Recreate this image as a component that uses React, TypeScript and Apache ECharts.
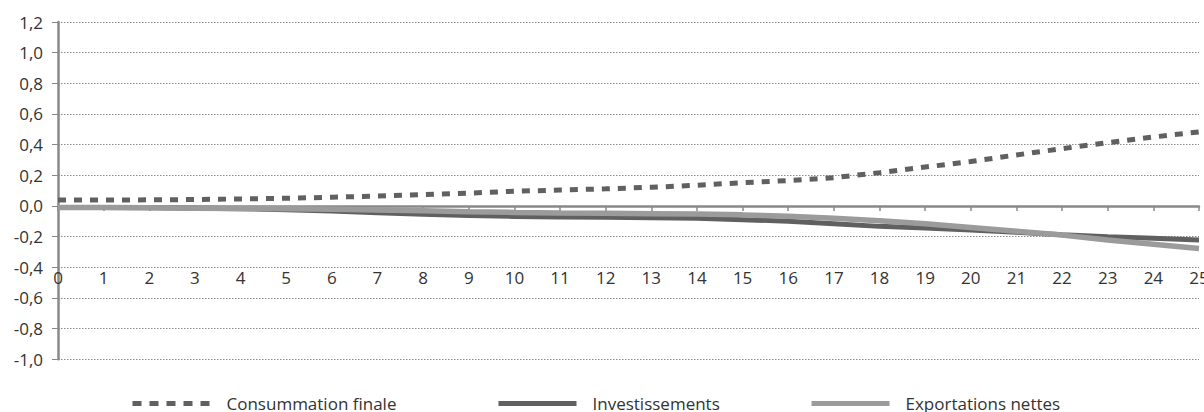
import React, { useEffect, useRef } from "react";
import * as echarts from "echarts";

const categories: string[] = Array.from({ length: 26 }, (_, i) => String(i));

const consommation: number[] = [
  0.039, 0.039, 0.04, 0.042, 0.046, 0.05, 0.057, 0.065, 0.074, 0.084, 0.096, 0.104, 0.112,
  0.122, 0.135, 0.152, 0.166, 0.185, 0.217, 0.254, 0.29, 0.333, 0.374, 0.413, 0.45, 0.483,
];
const investissements: number[] = [
  -0.01, -0.01, -0.011, -0.014, -0.018, -0.024, -0.033, -0.044, -0.054, -0.062, -0.068, -0.072,
  -0.074, -0.076, -0.08, -0.089, -0.1, -0.116, -0.133, -0.144, -0.157, -0.172, -0.187, -0.2,
  -0.21, -0.222,
];
const exportations: number[] = [
  -0.01, -0.01, -0.012, -0.014, -0.016, -0.018, -0.022, -0.026, -0.031, -0.037, -0.042, -0.046,
  -0.048, -0.05, -0.053, -0.058, -0.067, -0.08, -0.096, -0.116, -0.14, -0.165, -0.19, -0.222,
  -0.25, -0.278,
];

const seriesNames: string[] = ["Consummation finale", "Investissements", "Exportations nettes"];
const yTicks = { min: -1.0, max: 1.2, step: 0.2 };

const DARK = "#606060";
const LIGHT = "#9b9b9b";
const AXIS = "#888888";
const TEXT = "#333333";
const FONT = "'Open Sans', 'DejaVu Sans', sans-serif";

export default function App() {
  const ref = useRef<HTMLDivElement>(null);

  useEffect(() => {
    if (!ref.current) return;
    const chart = echarts.init(ref.current, undefined, { renderer: "svg" });

    const legendLeft = [125, 491, 804];
    const legendStyles = [
      { width: 5, type: [9, 8], color: DARK, cap: "butt" },
      { width: 5, type: "solid", color: DARK },
      { width: 5, type: "solid", color: LIGHT },
    ];

    chart.setOption({
      animation: false,
      backgroundColor: "#ffffff",
      grid: {
        left: 58,
        right: 5,
        top: 22,
        bottom: 52.7,
        containLabel: false,
        outerBoundsMode: "none",
      },
      legend: seriesNames.map((n, i) => ({
        top: 387.5,
        left: legendLeft[i],
        itemWidth: 78,
        itemHeight: 6,
        selectedMode: false,
        textStyle: {
          fontFamily: FONT,
          fontSize: 17,
          lineHeight: 16,
          color: TEXT,
          padding: [0, 0, 6, 11],
        },
        data: [{ name: n, lineStyle: legendStyles[i] }],
      })),
      xAxis: {
        type: "category",
        data: categories,
        boundaryGap: false,
        axisLine: { show: true, onZero: true, lineStyle: { color: AXIS, width: 2.5 } },
        axisTick: { show: true, alignWithLabel: true, length: 5, lineStyle: { color: AXIS, width: 1.5 } },
        axisLabel: { interval: 0, margin: -90, fontSize: 17, color: TEXT, fontFamily: FONT },
        splitLine: { show: false },
      },
      yAxis: {
        type: "value",
        min: yTicks.min,
        max: yTicks.max,
        interval: yTicks.step,
        axisLine: { show: true, lineStyle: { color: AXIS, width: 2.5 } },
        axisTick: { show: true, length: 6, lineStyle: { color: AXIS, width: 1 } },
        axisLabel: {
          margin: 15,
          fontSize: 17,
          color: TEXT,
          fontFamily: FONT,
          formatter: (v: number) => {
            const r = Math.round(v * 10) / 10;
            const s = (Math.abs(r) < 1e-9 ? 0 : r).toFixed(1);
            return s.replace(".", ",");
          },
        },
        splitLine: { show: true, lineStyle: { type: [1.5, 1.5], color: "#8a8a8a", width: 1 } },
      },
      series: [
        {
          name: seriesNames[0],
          type: "line",
          data: consommation,
          symbol: "none",
          z: 4,
          lineStyle: { color: DARK, width: 5, type: [8, 8], cap: "butt" },
          itemStyle: { color: DARK },
        },
        {
          name: seriesNames[1],
          type: "line",
          data: investissements,
          symbol: "none",
          z: 2,
          lineStyle: { color: DARK, width: 5 },
          itemStyle: { color: DARK },
        },
        {
          name: seriesNames[2],
          type: "line",
          data: exportations,
          symbol: "none",
          z: 3,
          lineStyle: { color: LIGHT, width: 5.5 },
          itemStyle: { color: LIGHT },
        },
      ],
    });

    return () => chart.dispose();
  }, []);

  return (
    <div
      ref={ref}
      style={{ position: "fixed", left: 0, top: 0, width: 1204, height: 412 }}
    />
  );
}
